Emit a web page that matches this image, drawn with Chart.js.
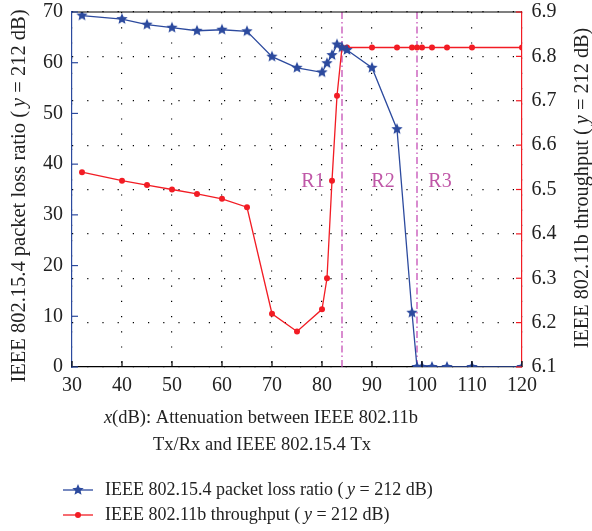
<!DOCTYPE html>
<html>
<head>
<meta charset="utf-8">
<script src="https://cdn.jsdelivr.net/npm/chart.js@4/dist/chart.umd.min.js"></script>
<style>
html,body{margin:0;padding:0;background:#fff;}
#wrap{position:relative;width:592px;height:531px;}
</style>
</head>
<body>
<div id="wrap"><canvas id="c" width="592" height="531"></canvas></div>
<script>
// ---- data ----
const attenuation = [32,40,45,50,55,60,65,70,75,80,81,82,83,84,85,90,95,98,99,100,102,105,110,120];
const lossRatio   = [69.3,68.6,67.5,66.9,66.3,66.5,66.2,61.2,59.0,58.1,59.9,61.5,63.6,63.0,62.5,59.0,46.9,10.7,0,0,0,0,0,0];
const throughput  = [6.539,6.520,6.510,6.500,6.490,6.479,6.460,6.220,6.180,6.230,6.300,6.520,6.711,6.820,6.820,6.820,6.820,6.820,6.820,6.820,6.820,6.820,6.820,6.820];
const regionBounds = [84, 99];
const regionLabels = ['R1','R2','R3'];
const regionLabelX = [78.2, 92.2, 103.6];
const regionLabelY = 36.5;
const xTitle1 = [['x', true], ['(dB): Attenuation between IEEE 802.11b', false]];
const xTitle2 = [['Tx/Rx and IEEE 802.15.4 Tx', false]];
const yTitleLeft = [['IEEE 802.15.4 packet loss ratio (', false], ['y', true], [' = 212 dB)', false]];
const yTitleRight = [['IEEE 802.11b throughput (', false], ['y', true], [' = 212 dB)', false]];
const legend1 = [['IEEE 802.15.4 packet loss ratio (', false], ['y', true], [' = 212 dB)', false]];
const legend2 = [['IEEE 802.11b throughput (', false], ['y', true], [' = 212 dB)', false]];

const BLUE = '#2c4a9e';
const RED = '#f21c24';
const MAG = '#c040b0';
const FONT = '"Liberation Serif", "DejaVu Serif", serif';
const FS = 18;
const TFS = 20;

function starImg(r, color){
  const s = Math.ceil(r*2+2);
  const c = document.createElement('canvas'); c.width = s; c.height = s;
  const g = c.getContext('2d'); g.fillStyle = color; g.beginPath();
  for (let i=0;i<10;i++){
    const a = -Math.PI/2 + i*Math.PI/5;
    const rr = (i%2) ? r*0.45 : r;
    g.lineTo(s/2 + rr*Math.cos(a), s/2 + rr*Math.sin(a));
  }
  g.closePath(); g.fill();
  return c;
}
const STAR = starImg(6, BLUE);

function segGap(it, i, fs){ return (it && i > 0) ? fs*0.2 : 0; }
function richWidth(ctx, segs, fs){
  let w = 0;
  segs.forEach(([t,it], i) => { ctx.font = (it?'italic ':'') + fs + 'px ' + FONT; w += ctx.measureText(t).width + segGap(it, i, fs); });
  return w;
}
function drawRich(ctx, segs, x, y, align, rot, fs){
  ctx.save();
  ctx.translate(x, y);
  if (rot) ctx.rotate(rot);
  ctx.textBaseline = 'middle';
  ctx.textAlign = 'left';
  ctx.fillStyle = '#222';
  const w = richWidth(ctx, segs, fs);
  let cx = align === 'center' ? -w/2 : 0;
  segs.forEach(([t,it], i) => {
    ctx.font = (it?'italic ':'') + fs + 'px ' + FONT;
    cx += segGap(it, i, fs);
    ctx.fillText(t, cx, 0);
    cx += ctx.measureText(t).width;
  });
  ctx.restore();
}

const decorPlugin = {
  id: 'decor',
  afterDraw(chart){
    const ctx = chart.ctx, a = chart.chartArea;
    const xs = chart.scales.x, yl = chart.scales.y, yr = chart.scales.y1;
    ctx.save();
    // top border
    ctx.strokeStyle = '#000'; ctx.lineWidth = 1.2;
    ctx.beginPath(); ctx.moveTo(a.left, a.top); ctx.lineTo(a.right, a.top); ctx.stroke();
    // inward ticks
    const TL = 6;
    ctx.lineWidth = 1.2;
    ctx.strokeStyle = '#000';
    xs.ticks.forEach(t => { const p = xs.getPixelForValue(t.value);
      ctx.beginPath(); ctx.moveTo(p, a.bottom); ctx.lineTo(p, a.bottom - TL); ctx.stroke(); });
    ctx.strokeStyle = BLUE;
    yl.ticks.forEach(t => { const p = yl.getPixelForValue(t.value);
      ctx.beginPath(); ctx.moveTo(a.left, p); ctx.lineTo(a.left + TL, p); ctx.stroke(); });
    ctx.strokeStyle = RED;
    yr.ticks.forEach(t => { const p = yr.getPixelForValue(t.value);
      ctx.beginPath(); ctx.moveTo(a.right, p); ctx.lineTo(a.right - TL, p); ctx.stroke(); });
    // region labels
    ctx.fillStyle = '#c058a8';
    ctx.font = TFS + 'px ' + FONT;
    ctx.textAlign = 'center'; ctx.textBaseline = 'middle';
    regionLabels.forEach((l, i) => ctx.fillText(l, xs.getPixelForValue(regionLabelX[i]), yl.getPixelForValue(regionLabelY)));
    ctx.restore();
    // titles
    drawRich(ctx, xTitle1, 261, 418, 'center', 0, 18.5);
    drawRich(ctx, xTitle2, 262, 445, 'center', 0, 18.5);
    drawRich(ctx, yTitleLeft, 20, 196, 'center', -Math.PI/2, 20.5);
    drawRich(ctx, yTitleRight, 583, 188, 'center', -Math.PI/2, 20.3);
    // legend
    ctx.save();
    ctx.lineWidth = 1.3;
    ctx.strokeStyle = BLUE;
    ctx.beginPath(); ctx.moveTo(63, 490); ctx.lineTo(93, 490); ctx.stroke();
    ctx.drawImage(STAR, 78 - STAR.width/2, 490 - STAR.height/2);
    ctx.strokeStyle = RED;
    ctx.beginPath(); ctx.moveTo(63, 515); ctx.lineTo(93, 515); ctx.stroke();
    ctx.fillStyle = RED;
    ctx.beginPath(); ctx.arc(78, 515, 3, 0, Math.PI*2); ctx.fill();
    ctx.restore();
    drawRich(ctx, legend1, 105, 490, 'left', 0, 18);
    drawRich(ctx, legend2, 105, 515, 'left', 0, 18);
  }
};

const tickFont = { family: FONT, size: TFS, lineHeight: 1.0 };
const NONE = 'rgba(0,0,0,0)';
new Chart(document.getElementById('c'), {
  type: 'line',
  data: {
    datasets: [
      {
        label: 'IEEE 802.15.4 packet loss ratio (y = 212 dB)',
        data: attenuation.map((x, i) => ({ x, y: lossRatio[i] })),
        yAxisID: 'y', borderColor: BLUE, backgroundColor: BLUE, borderWidth: 1.3,
        pointStyle: STAR, pointRadius: 6, tension: 0, fill: false
      },
      {
        label: 'IEEE 802.11b throughput (y = 212 dB)',
        data: attenuation.map((x, i) => ({ x, y: throughput[i] })),
        yAxisID: 'y1', borderColor: RED, backgroundColor: RED, borderWidth: 1.3,
        pointStyle: 'circle', pointRadius: 3, pointBorderWidth: 0, tension: 0, fill: false
      },
      ...regionBounds.map(b => ({
        label: 'bound ' + b,
        data: [{ x: b, y: 0 }, { x: b, y: 70 }],
        yAxisID: 'y', borderColor: MAG, borderWidth: 1.2, borderDash: [7, 3, 1.5, 3],
        pointRadius: 0, fill: false
      }))
    ]
  },
  options: {
    responsive: false, animation: false, devicePixelRatio: 1,
    layout: { padding: { top: 12, bottom: 0, left: 0, right: 0 } },
    plugins: { legend: { display: false }, tooltip: { enabled: false } },
    scales: {
      x: {
        type: 'linear', min: 30, max: 120,
        ticks: { stepSize: 10, color: '#222', font: tickFont, padding: 9, maxRotation: 0 },
        grid: { color: '#000', lineWidth: 1.2, drawTicks: false },
        border: { color: '#000', width: 1.2, dash: [1.2, 14] },
        afterFit(s){ s.height = 531 - 367; }
      },
      y: {
        position: 'left', min: 0, max: 70,
        ticks: { stepSize: 10, color: '#222', font: tickFont, padding: 0 },
        grid: { display: true, drawOnChartArea: false, drawTicks: true, tickLength: 9, tickColor: NONE, color: NONE },
        border: { color: BLUE, width: 1.2 },
        afterFit(s){ s.width = 72; }
      },
      y1: {
        position: 'right', min: 6.1, max: 6.9,
        ticks: { stepSize: 0.1, color: '#222', font: tickFont, padding: 0, callback: v => v.toFixed(1) },
        grid: { color: '#000', lineWidth: 1.2, drawTicks: true, tickLength: 9.5, tickColor: NONE, drawOnChartArea: true },
        border: { color: RED, width: 1.2, dash: [1.2, 14] },
        afterFit(s){ s.width = 70; }
      }
    }
  },
  plugins: [decorPlugin]
});
</script>
</body>
</html>
